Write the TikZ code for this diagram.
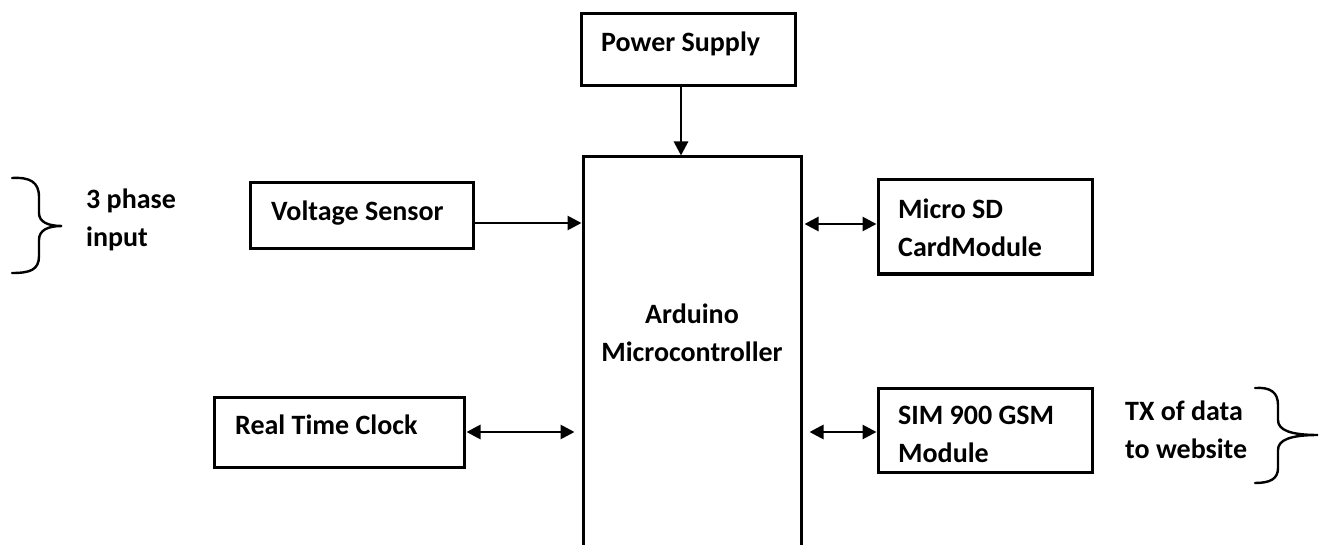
\documentclass[tikz,border=0pt]{standalone}
\usepackage{fontspec}
\setmainfont{Carlito}
\usetikzlibrary{arrows.meta,positioning}
\begin{document}
\begin{tikzpicture}[x=1pt,y=-1pt,
  box/.style={draw,line width=3pt,rectangle,inner sep=0pt},
  lbl/.style={anchor=west,align=left,inner sep=0pt,font=\fontsize{28}{38}\selectfont\bfseries},
  arr/.style={line width=2.8pt,-{Triangle[length=14pt,width=14pt]}},
  darr/.style={line width=2.8pt,{Triangle[length=14pt,width=14pt]}-{Triangle[length=14pt,width=14pt]}},
  brace/.style={line width=2.4pt,line cap=round}]
\useasboundingbox (0,0) rectangle (1319,545);
\clip (0,0) rectangle (1319,545);
% boxes
\node[box,minimum width=214pt,minimum height=72pt] (ps) at (688,50) {};
\node[box,minimum width=218pt,minimum height=420pt] (ard) at (692,367) {};
\node[box,minimum width=223pt,minimum height=66pt] (vs) at (361.5,216) {};
\node[box,minimum width=214pt,minimum height=94pt] (sd) at (985,227) {};
\node[box,minimum width=250pt,minimum height=70pt] (rtc) at (339,432) {};
\node[box,minimum width=214pt,minimum height=84pt] (gsm) at (985,430) {};
% texts
\node[lbl] (tps) at (601,44) {Power Supply};
\node[lbl,align=center,anchor=center] (tard) at (692,333) {Arduino\\Microcontroller};
\node[lbl] (tvs) at (271,213) {Voltage Sensor};
\node[lbl] (tsd) at (898,228) {Micro SD\\CardModule};
\node[lbl] (trtc) at (235,425) {Real Time Clock};
\node[lbl] (tgsm) at (898,434) {SIM 900 GSM\\Module};
\node[lbl] (tin) at (86,220) {3 phase\\input};
\node[lbl] (ttx) at (1125,430) {TX of data\\to website};
% connectors
\draw[arr] ([xshift=-7pt]ps.south) -- ([xshift=-7pt]ps.south |- ard.north);
\draw[arr] ([yshift=-7pt]vs.east) -- ([yshift=-7pt]vs.east -| ard.west);
\draw[darr] ([yshift=3pt,xshift=2pt]sd.west -| ard.east) -- ([yshift=3pt]sd.west);
\draw[darr] ([xshift=1pt]rtc.east) -- ([xshift=-7pt]rtc.east -| ard.west);
\draw[darr] ([yshift=-2pt,xshift=7pt]gsm.west -| ard.east) -- ([yshift=-2pt]gsm.west);
% braces
\coordinate (lb) at (12,178);
\draw[brace] (lb) .. controls (30,177) and (39,182) .. (39,197) -- (39,213)
  .. controls (39,222) and (48,226) .. (62,226)
  .. controls (48,226) and (39,230) .. (39,240) -- (39,256)
  .. controls (39,270) and (30,273) .. (12,273);
\coordinate (rb) at (1255,388);
\draw[brace] (rb) .. controls (1270,387) and (1278,392) .. (1278,405) -- (1278,420)
  .. controls (1278,430) and (1290,435) .. (1318,435)
  .. controls (1290,435) and (1278,440) .. (1278,450) -- (1278,468)
  .. controls (1278,479) and (1270,483) .. (1255,483);
\end{tikzpicture}
\end{document}
